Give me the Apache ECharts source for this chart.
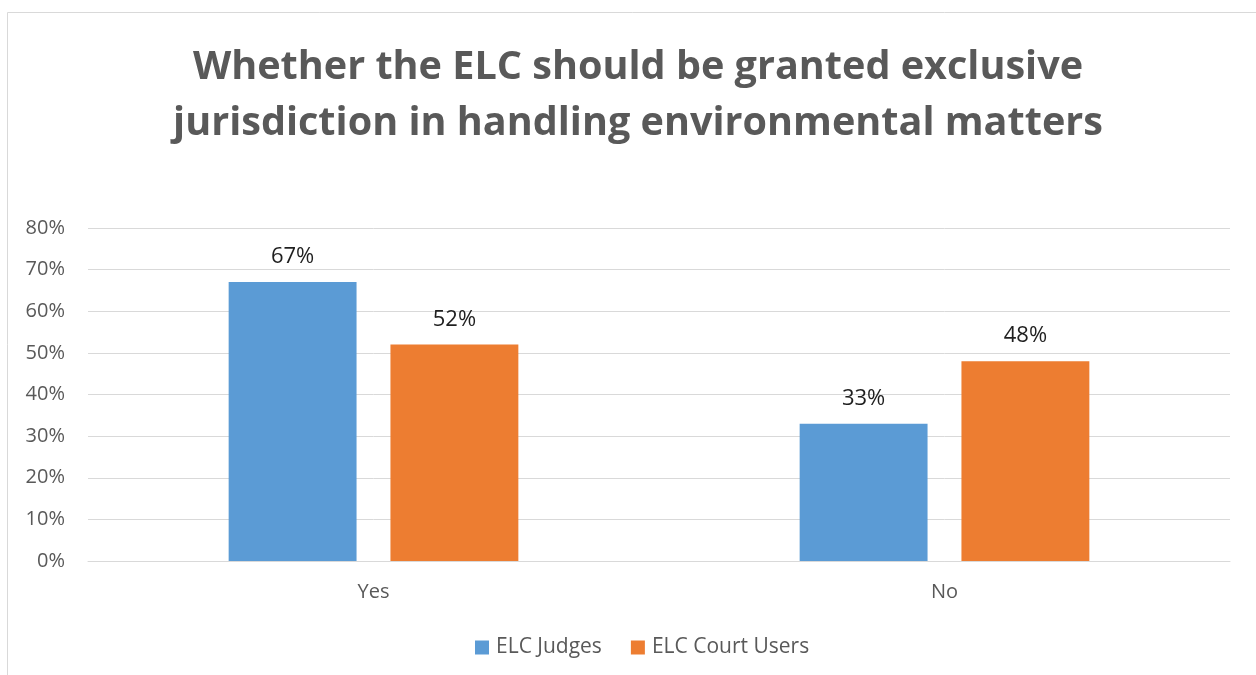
<!DOCTYPE html>
<html>
<head>
<meta charset="utf-8">
<script src="https://cdn.jsdelivr.net/npm/echarts@6/dist/echarts.min.js"></script>
<style>
  html, body { margin: 0; padding: 0; background: #fff; }
  #chart { width: 1256px; height: 675px; }
</style>
</head>
<body>
<div id="chart"></div>
<script>
const categories = ['Yes', 'No'];
const judges = [67, 33];
const courtUsers = [52, 48];
const yTicks = [0, 10, 20, 30, 40, 50, 60, 70, 80];

const font = '"Open Sans", "Noto Sans", sans-serif';
const chart = echarts.init(document.getElementById('chart'));

const valueLabel = {
  show: true,
  position: 'top',
  distance: 14,
  formatter: '{c}%',
  fontFamily: font,
  fontSize: 22,
  color: '#1f1f1f'
};

chart.setOption({
  backgroundColor: '#ffffff',
  animation: false,
  textStyle: { fontFamily: font },
  graphic: [{
    type: 'rect',
    shape: { x: 7.5, y: 12.5, width: 1400, height: 800 },
    style: { fill: 'none', stroke: '#d9d9d9', lineWidth: 1 },
    silent: true
  }],
  title: {
    text: 'Whether the ELC should be granted exclusive\njurisdiction in handling environmental matters',
    left: 633,
    textAlign: 'center',
    top: 35,
    textStyle: {
      fontFamily: font,
      fontSize: 39.6,
      fontWeight: 'bold',
      color: '#595959',
      lineHeight: 56
    }
  },
  legend: {
    bottom: 12,
    left: 470,
    itemWidth: 14,
    itemHeight: 14,
    itemGap: 29,
    icon: 'rect',
    textStyle: { fontFamily: font, fontSize: 21, color: '#595959', padding: [0, 0, 0, 2] },
    data: ['ELC Judges', 'ELC Court Users']
  },
  grid: { left: 88, right: 26, top: 228, bottom: 114, containLabel: false },
  xAxis: {
    type: 'category',
    data: categories,
    axisLine: { lineStyle: { color: '#d9d9d9', width: 1 } },
    axisTick: { show: false },
    axisLabel: { fontFamily: font, fontSize: 20, color: '#595959', margin: 21 }
  },
  yAxis: {
    type: 'value',
    min: yTicks[0],
    max: yTicks[yTicks.length - 1],
    interval: 10,
    axisLine: { show: false },
    axisTick: { show: false },
    splitLine: { lineStyle: { color: '#d9d9d9', width: 1 } },
    axisLabel: { fontFamily: font, fontSize: 20, color: '#595959', margin: 23, formatter: '{value}%' }
  },
  series: [
    {
      name: 'ELC Judges',
      type: 'bar',
      data: judges,
      barWidth: '22.4%',
      barGap: '26.5%',
      itemStyle: { color: '#5b9bd5' },
      label: valueLabel
    },
    {
      name: 'ELC Court Users',
      type: 'bar',
      data: courtUsers,
      barWidth: '22.4%',
      barGap: '26.5%',
      itemStyle: { color: '#ed7d31' },
      label: valueLabel
    }
  ]
});
</script>
</body>
</html>
